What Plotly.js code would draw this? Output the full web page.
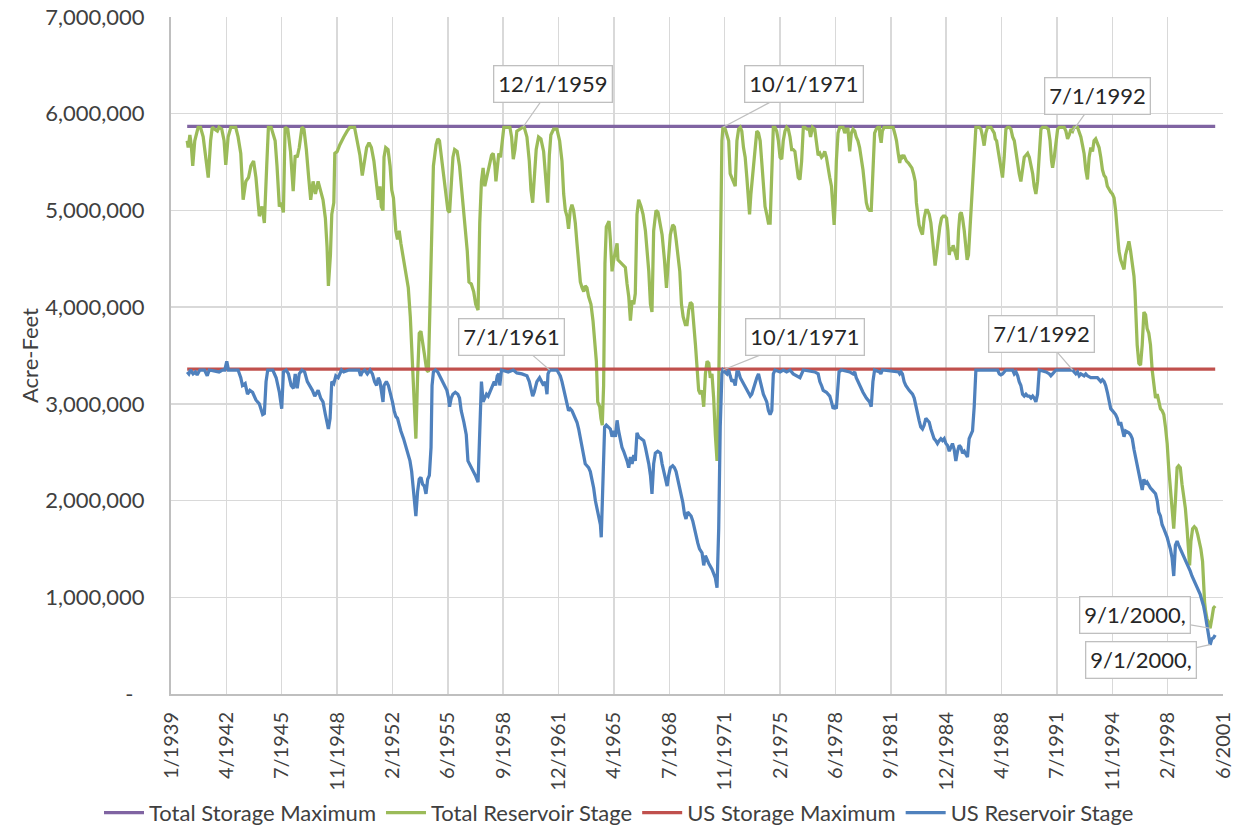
<!DOCTYPE html>
<html><head><meta charset="utf-8">
<script src="https://cdn.plot.ly/plotly-3.0.1.min.js"></script>
<style>html,body{margin:0;padding:0;background:#fff}#chart{width:1238px;height:826px}</style>
</head><body><div id="chart"></div>
<script>
// ---- data (x = decimal year, y = million acre-feet) ----
const seriesNames = ['Total Storage Maximum', 'Total Reservoir Stage', 'US Storage Maximum', 'US Reservoir Stage'];
const xTickLabels = ['1/1939','4/1942','7/1945','11/1948','2/1952','6/1955','9/1958','12/1961','4/1965','7/1968',
  '11/1971','2/1975','6/1978','9/1981','12/1984','4/1988','7/1991','11/1994','2/1998','6/2001'];
const yTickValuesAF = [0, 1000000, 2000000, 3000000, 4000000, 5000000, 6000000, 7000000];
const yTickLabels = ['-\u00a0\u00a0','1,000,000','2,000,000','3,000,000','4,000,000','5,000,000','6,000,000','7,000,000'];
const totalStorageMaxMAF = 5.87;
const usStorageMaxMAF = 3.36;

const totalStage = [
[1939.96,5.72],[1940.02,5.65],[1940.12,5.78],[1940.20,5.68],[1940.29,5.46],[1940.41,5.72],[1940.61,5.86],[1940.75,5.86],[1940.91,5.76],[1941.05,5.59],
[1941.21,5.34],[1941.35,5.72],[1941.45,5.86],[1941.59,5.84],[1941.75,5.82],[1941.85,5.86],[1942.01,5.84],[1942.15,5.72],[1942.25,5.47],[1942.39,5.76],
[1942.55,5.86],[1942.84,5.86],[1942.98,5.76],[1943.14,5.59],[1943.28,5.11],[1943.44,5.30],[1943.60,5.34],[1943.74,5.46],[1943.90,5.51],[1944.04,5.34],
[1944.24,4.94],[1944.40,5.04],[1944.54,4.87],[1944.68,5.46],[1944.78,5.86],[1944.94,5.86],[1945.18,5.72],[1945.29,5.46],[1945.43,5.04],[1945.53,5.08],
[1945.67,4.98],[1945.77,5.86],[1945.93,5.84],[1946.09,5.61],[1946.25,5.20],[1946.37,5.57],[1946.49,5.55],[1946.61,5.65],[1946.77,5.86],[1946.89,5.84],
[1947.03,5.63],[1947.17,5.34],[1947.29,5.11],[1947.43,5.30],[1947.57,5.17],[1947.73,5.30],[1947.86,5.21],[1948.02,5.11],[1948.16,4.92],[1948.26,4.62],
[1948.34,4.22],[1948.46,4.54],[1948.54,4.96],[1948.66,5.08],[1948.72,5.59],[1948.86,5.61],[1949.02,5.68],[1949.12,5.72],
[1949.25,5.76],[1949.45,5.82],[1949.61,5.86],[1949.89,5.86],[1950.05,5.72],[1950.21,5.57],[1950.35,5.36],[1950.45,5.46],[1950.61,5.65],[1950.75,5.70],
[1950.89,5.65],[1951.04,5.51],[1951.20,5.30],[1951.30,5.11],[1951.40,5.25],[1951.48,5.04],[1951.58,5.00],[1951.64,5.55],[1951.74,5.65],[1951.88,5.63],
[1952.00,5.46],[1952.10,5.21],[1952.20,5.13],[1952.34,4.79],[1952.44,4.70],[1952.54,4.79],[1952.64,4.66],[1952.80,4.49],[1952.94,4.37],[1953.08,4.20],
[1953.20,3.90],[1953.34,3.40],[1953.43,2.97],[1953.53,2.64],[1953.63,3.27],[1953.73,3.73],[1953.83,3.75],[1953.93,3.65],[1954.03,3.52],[1954.17,3.35],
[1954.27,3.33],[1954.37,4.03],[1954.47,4.96],[1954.57,5.46],[1954.73,5.68],[1954.83,5.74],[1954.93,5.72],[1955.07,5.51],[1955.23,5.30],[1955.33,5.13],
[1955.43,5.00],[1955.53,4.98],[1955.63,5.25],[1955.73,5.55],[1955.83,5.63],[1955.98,5.61],[1956.12,5.46],[1956.26,5.21],[1956.42,4.87],[1956.58,4.58],
[1956.68,4.26],[1956.82,4.24],[1956.96,4.16],[1957.08,4.03],[1957.22,3.97],[1957.32,4.87],[1957.42,5.30],[1957.52,5.44],[1957.62,5.25],[1957.72,5.34],
[1957.82,5.42],[1957.92,5.51],[1958.02,5.57],[1958.12,5.59],[1958.22,5.46],[1958.28,5.30],[1958.36,5.44],[1958.45,5.59],[1958.55,5.55],[1958.65,5.72],
[1958.75,5.86],[1959.11,5.86],[1959.21,5.76],[1959.31,5.53],[1959.41,5.63],
[1959.52,5.82],[1959.68,5.84],[1959.88,5.86],[1959.96,5.86],[1960.12,5.76],[1960.26,5.51],[1960.36,5.21],[1960.46,5.08],[1960.55,5.30],[1960.67,5.63],
[1960.81,5.76],[1960.95,5.74],[1961.11,5.61],[1961.25,5.30],[1961.35,5.08],[1961.45,5.57],[1961.54,5.78],[1961.70,5.84],[1961.90,5.84],[1962.06,5.72],
[1962.20,5.51],[1962.30,5.17],[1962.40,5.00],[1962.50,4.94],[1962.59,4.81],[1962.69,5.00],[1962.79,5.06],[1962.89,5.00],[1962.99,4.87],[1963.09,4.66],
[1963.19,4.45],[1963.29,4.26],[1963.39,4.20],[1963.49,4.16],[1963.58,4.22],[1963.68,4.20],[1963.78,4.11],[1963.92,4.03],[1964.04,3.86],[1964.14,3.69],
[1964.24,3.44],[1964.32,3.02],[1964.44,2.97],[1964.51,2.85],[1964.59,2.78],[1964.67,3.19],[1964.75,4.45],[1964.83,4.83],[1964.91,4.87],[1964.99,4.89],
[1965.07,4.70],[1965.17,4.37],[1965.27,4.49],[1965.37,4.56],[1965.47,4.66],[1965.52,4.49],[1965.62,4.47],[1965.76,4.45],[1965.96,4.41],[1966.06,4.24],
[1966.16,4.11],[1966.26,3.86],[1966.36,4.07],[1966.46,4.03],[1966.55,4.14],[1966.65,4.96],[1966.75,5.11],[1966.89,5.04],[1967.01,4.96],[1967.15,4.79],
[1967.25,4.62],[1967.35,4.37],[1967.45,4.03],[1967.54,3.95],[1967.64,4.79],[1967.78,5.00],[1967.90,4.98],[1968.00,4.87],[1968.14,4.75],[1968.28,4.49],
[1968.40,4.20],[1968.50,4.45],[1968.63,4.75],[1968.77,4.85],[1968.87,4.83],[1968.97,4.70],[1969.09,4.54],[1969.19,4.37],[1969.29,4.03],[1969.39,3.90],
[1969.52,3.82],[1969.62,3.82],[1969.72,3.97],[1969.82,4.05],[1969.92,4.03],[1970.02,3.86],[1970.12,3.61],
[1970.31,3.14],[1970.41,3.10],[1970.51,3.14],[1970.61,2.97],[1970.71,3.31],[1970.81,3.44],[1970.91,3.42],[1971.00,3.27],[1971.10,3.31],[1971.20,3.06],
[1971.30,2.68],[1971.40,2.41],[1971.50,3.19],[1971.59,4.45],[1971.69,5.72],[1971.75,5.86],[1971.89,5.84],[1971.99,5.78],[1972.09,5.72],[1972.18,5.38],
[1972.28,5.34],[1972.38,5.30],[1972.48,5.25],[1972.58,5.72],[1972.68,5.84],[1972.78,5.86],[1972.87,5.82],[1972.97,5.65],[1973.07,5.55],[1973.17,5.34],
[1973.27,5.08],[1973.33,4.96],[1973.41,5.17],[1973.52,5.38],[1973.66,5.68],[1973.76,5.82],[1973.86,5.80],[1973.96,5.72],[1974.05,5.51],[1974.15,5.25],
[1974.25,5.04],[1974.35,4.96],[1974.45,4.87],[1974.55,4.87],[1974.65,5.30],[1974.74,5.86],[1974.84,5.86],[1974.94,5.82],[1975.04,5.72],[1975.14,5.55],
[1975.24,5.53],[1975.33,5.72],[1975.43,5.82],[1975.53,5.86],[1975.63,5.84],[1975.73,5.76],[1975.83,5.63],[1975.92,5.63],[1976.02,5.61],[1976.12,5.46],
[1976.22,5.34],[1976.32,5.32],[1976.42,5.51],[1976.52,5.86],[1976.61,5.86],[1976.75,5.84],[1976.87,5.84],[1976.95,5.76],[1977.07,5.86],[1977.20,5.84],
[1977.30,5.72],[1977.40,5.57],[1977.50,5.59],[1977.60,5.55],[1977.70,5.57],[1977.79,5.61],[1977.89,5.55],[1977.99,5.42],[1978.09,5.34],[1978.19,5.25],
[1978.29,5.04],[1978.35,4.85],[1978.41,5.08],[1978.48,5.51],[1978.58,5.80],[1978.68,5.86],[1978.88,5.86],[1978.98,5.80],[1979.07,5.84],[1979.17,5.84],
[1979.27,5.61],[1979.37,5.80],[1979.47,5.84],[1979.57,5.82],[1979.66,5.76],[1979.76,5.72],[1979.86,5.65],[1979.96,5.55],[1980.06,5.42],[1980.16,5.25],
[1980.26,5.08],[1980.35,5.02],[1980.45,5.00],[1980.55,5.00],[1980.65,5.51],[1980.75,5.80],[1980.85,5.84],[1980.94,5.86],[1981.04,5.86],
[1981.06,5.78],[1981.14,5.70],[1981.21,5.82],[1981.31,5.86],[1981.85,5.86],[1981.97,5.78],[1982.05,5.72],[1982.15,5.59],[1982.24,5.49],[1982.32,5.57],
[1982.40,5.55],[1982.48,5.57],[1982.56,5.53],[1982.64,5.51],[1982.76,5.49],[1982.88,5.46],[1982.96,5.44],[1983.06,5.38],[1983.16,5.30],[1983.23,5.08],
[1983.31,4.96],[1983.39,4.85],[1983.49,4.79],[1983.59,4.75],[1983.69,4.92],[1983.79,5.00],[1983.89,5.00],[1983.99,4.96],[1984.09,4.87],[1984.19,4.66],
[1984.28,4.49],[1984.34,4.43],[1984.42,4.54],[1984.52,4.70],[1984.62,4.83],[1984.72,4.92],[1984.82,4.94],[1984.92,4.94],[1985.02,4.92],[1985.10,4.79],
[1985.18,4.54],[1985.25,4.62],[1985.33,4.58],[1985.41,4.64],[1985.49,4.58],[1985.57,4.54],[1985.65,4.49],[1985.73,4.79],[1985.81,4.96],[1985.89,4.98],
[1985.97,4.92],[1986.07,4.79],[1986.17,4.62],[1986.24,4.49],[1986.32,4.54],[1986.40,4.79],[1986.48,5.08],[1986.56,5.30],[1986.66,5.55],[1986.76,5.86],
[1986.96,5.86],[1987.06,5.84],[1987.16,5.76],[1987.25,5.67],[1987.35,5.80],[1987.45,5.86],[1987.65,5.86],[1987.75,5.82],[1987.85,5.80],[1987.91,5.74],
[1987.99,5.72],[1988.07,5.63],[1988.15,5.55],[1988.24,5.42],[1988.34,5.34],[1988.44,5.55],[1988.54,5.84],[1988.64,5.86],[1988.74,5.86],[1988.84,5.84],
[1988.94,5.76],[1989.04,5.72],[1989.14,5.59],[1989.24,5.46],[1989.33,5.38],[1989.43,5.30],[1989.53,5.46],[1989.63,5.55],[1989.73,5.57],[1989.83,5.59],
[1989.93,5.55],[1990.03,5.46],[1990.13,5.38],[1990.22,5.25],[1990.32,5.17],[1990.42,5.30],[1990.52,5.63],[1990.62,5.84],[1990.72,5.86],[1990.92,5.86],
[1991.06,5.84],[1991.16,5.72],[1991.25,5.51],[1991.31,5.44],[1991.41,5.55],[1991.51,5.72],[1991.61,5.84],[1991.71,5.86],
[1991.81,5.86],[1992.00,5.86],[1992.10,5.82],[1992.20,5.74],[1992.30,5.78],[1992.40,5.84],[1992.50,5.82],[1992.59,5.86],[1992.79,5.86],[1992.89,5.82],
[1992.99,5.76],[1993.09,5.67],[1993.18,5.59],[1993.28,5.42],[1993.38,5.32],[1993.48,5.55],[1993.58,5.65],[1993.68,5.61],[1993.77,5.72],[1993.87,5.74],
[1993.97,5.70],[1994.07,5.65],[1994.17,5.55],[1994.27,5.42],[1994.37,5.36],[1994.46,5.34],[1994.56,5.25],[1994.66,5.21],[1994.76,5.19],[1994.86,5.17],
[1994.96,5.13],[1995.05,5.00],[1995.15,4.79],[1995.25,4.58],[1995.35,4.49],[1995.45,4.43],[1995.55,4.39],[1995.64,4.54],[1995.74,4.62],[1995.84,4.68],
[1995.94,4.58],[1996.04,4.45],[1996.14,4.32],[1996.20,4.16],[1996.25,3.95],[1996.33,3.61],[1996.43,3.42],[1996.53,3.40],[1996.63,3.61],[1996.73,3.95],
[1996.83,3.92],[1996.92,3.78],[1997.02,3.73],[1997.12,3.61],[1997.22,3.35],[1997.32,3.19],[1997.42,3.06],[1997.52,3.10],[1997.61,3.02],[1997.71,2.95],
[1997.81,2.93],[1997.91,2.89],[1998.01,2.76],[1998.11,2.59],[1998.20,2.34],[1998.30,2.09],[1998.40,1.88],[1998.50,1.71],[1998.60,2.00],[1998.70,2.34],
[1998.79,2.36],[1998.89,2.34],[1998.99,2.17],[1999.09,2.05],[1999.19,1.92],[1999.29,1.71],[1999.38,1.46],[1999.44,1.33],[1999.52,1.58],[1999.62,1.71],
[1999.72,1.73],[1999.82,1.71],[1999.92,1.65],[2000.02,1.58],[2000.11,1.50],[2000.21,1.37],[2000.27,1.12],[2000.33,0.95],[2000.39,0.86],[2000.47,0.78],
[2000.57,0.74],[2000.66,0.68],[2000.76,0.78],[2000.86,0.89],[2000.96,0.91]
];

const usStage = [
[1939.96,3.33],[1940.06,3.31],[1940.16,3.35],[1940.31,3.31],[1940.45,3.33],[1940.55,3.30],[1940.71,3.35],[1940.99,3.35],[1941.15,3.29],[1941.27,3.35],
[1941.85,3.33],[1942.05,3.35],[1942.19,3.35],[1942.31,3.44],[1942.41,3.35],[1942.98,3.35],[1943.14,3.27],[1943.24,3.19],[1943.40,3.21],[1943.54,3.10],
[1943.68,3.14],[1943.84,3.12],[1944.04,3.04],[1944.24,3.00],[1944.44,2.89],[1944.54,2.90],[1944.64,3.23],[1944.74,3.35],[1945.04,3.35],[1945.24,3.27],
[1945.43,3.12],[1945.57,2.95],[1945.67,3.33],[1945.83,3.35],[1945.97,3.31],[1946.13,3.19],[1946.27,3.16],[1946.37,3.31],[1946.49,3.16],[1946.61,3.31],
[1946.77,3.35],[1946.93,3.33],[1947.09,3.23],[1947.23,3.19],[1947.39,3.14],[1947.53,3.08],[1947.73,3.14],[1947.88,3.06],[1948.02,3.02],[1948.16,2.89],
[1948.26,2.81],[1948.34,2.74],[1948.44,2.85],[1948.54,3.23],[1948.66,3.21],[1948.78,3.29],[1948.92,3.27],[1949.12,3.35],
[1949.25,3.33],[1949.55,3.35],[1950.15,3.35],[1950.25,3.29],[1950.35,3.33],[1950.49,3.35],[1950.65,3.31],[1950.81,3.35],[1950.95,3.31],[1951.08,3.23],
[1951.20,3.19],[1951.30,3.27],[1951.40,3.23],[1951.50,3.10],[1951.58,3.02],[1951.64,3.19],[1951.78,3.23],[1951.90,3.19],[1952.04,3.10],[1952.14,3.02],
[1952.24,2.93],[1952.34,2.87],[1952.44,2.85],[1952.54,2.78],[1952.64,2.72],[1952.80,2.64],[1952.94,2.55],[1953.08,2.47],[1953.18,2.41],[1953.28,2.30],
[1953.38,2.13],[1953.47,2.00],[1953.53,1.84],[1953.63,2.09],[1953.73,2.22],[1953.83,2.24],[1953.93,2.17],[1954.03,2.15],[1954.13,2.07],[1954.23,2.22],
[1954.33,2.26],[1954.43,2.55],[1954.49,3.19],[1954.57,3.33],[1954.69,3.35],[1954.83,3.33],[1954.99,3.27],[1955.13,3.23],[1955.23,3.19],[1955.37,3.14],
[1955.47,3.06],[1955.53,2.97],[1955.63,3.06],[1955.73,3.10],[1955.87,3.12],[1956.02,3.10],[1956.12,3.06],[1956.22,2.93],[1956.38,2.81],[1956.52,2.68],
[1956.62,2.41],[1956.78,2.36],[1956.92,2.32],[1957.06,2.26],[1957.22,2.19],[1957.32,2.85],[1957.42,3.23],[1957.52,3.02],[1957.62,3.06],[1957.72,3.10],
[1957.82,3.08],[1957.96,3.14],[1958.06,3.19],[1958.18,3.23],[1958.26,3.19],[1958.36,3.29],[1958.45,3.31],[1958.51,3.19],[1958.61,3.35],[1959.01,3.33],
[1959.31,3.35],[1959.52,3.32],[1959.82,3.31],[1960.12,3.29],[1960.26,3.23],[1960.36,3.14],[1960.46,3.08],[1960.55,3.12],[1960.71,3.23],[1960.87,3.27],
[1961.01,3.23],[1961.11,3.19],[1961.21,3.23],[1961.31,3.10],[1961.37,3.31],[1961.47,3.35],[1961.90,3.35],[1962.10,3.29],[1962.20,3.23],[1962.30,3.14],
[1962.40,3.06],[1962.50,3.00],[1962.59,2.93],[1962.69,2.95],[1962.79,2.93],[1962.89,2.89],[1962.99,2.85],[1963.09,2.81],[1963.19,2.74],[1963.29,2.64],
[1963.39,2.55],[1963.49,2.45],[1963.58,2.38],[1963.68,2.36],[1963.78,2.34],[1963.88,2.30],[1963.98,2.22],[1964.08,2.13],[1964.18,2.00],[1964.28,1.92],
[1964.38,1.86],[1964.48,1.75],[1964.53,1.62],[1964.63,2.13],[1964.73,2.76],[1964.83,2.78],[1964.97,2.76],[1965.07,2.74],[1965.17,2.66],[1965.27,2.72],
[1965.37,2.66],[1965.47,2.83],[1965.56,2.72],[1965.66,2.64],[1965.76,2.55],[1965.86,2.51],[1965.96,2.47],[1966.06,2.41],[1966.16,2.34],[1966.26,2.45],
[1966.36,2.38],[1966.46,2.47],[1966.55,2.41],[1966.65,2.70],[1966.75,2.66],[1966.89,2.64],[1967.05,2.62],[1967.15,2.55],[1967.25,2.47],[1967.35,2.38],
[1967.45,2.26],[1967.54,2.07],[1967.64,2.38],[1967.74,2.49],[1967.88,2.51],[1968.04,2.49],[1968.14,2.38],[1968.24,2.30],[1968.34,2.22],[1968.44,2.15],
[1968.53,2.26],[1968.63,2.34],[1968.77,2.36],[1968.87,2.34],[1968.97,2.30],[1969.07,2.22],[1969.17,2.13],[1969.27,2.05],[1969.37,1.98],[1969.47,1.86],
[1969.56,1.81],[1969.66,1.88],[1969.76,1.86],[1969.86,1.84],[1969.96,1.79],[1970.06,1.71],[1970.16,1.62],[1970.26,1.56],[1970.36,1.50],
[1970.51,1.46],[1970.61,1.33],[1970.71,1.43],[1970.91,1.35],[1971.10,1.29],[1971.30,1.20],[1971.40,1.10],[1971.50,1.71],[1971.59,2.76],[1971.69,3.31],
[1971.75,3.35],[1971.99,3.31],[1972.09,3.35],[1972.18,3.29],[1972.28,3.23],[1972.38,3.25],[1972.48,3.19],[1972.58,3.33],[1972.68,3.33],[1972.78,3.27],
[1972.97,3.21],[1973.17,3.16],[1973.27,3.12],[1973.37,3.08],[1973.46,3.10],[1973.56,3.16],[1973.76,3.27],[1973.86,3.31],[1973.96,3.23],[1974.15,3.10],
[1974.35,3.02],[1974.45,2.93],[1974.55,2.89],[1974.65,2.93],[1974.74,3.31],[1974.84,3.35],[1975.14,3.33],[1975.33,3.35],[1975.53,3.33],[1975.73,3.35],
[1975.92,3.31],[1976.12,3.29],[1976.32,3.27],[1976.52,3.35],[1977.20,3.33],[1977.40,3.31],[1977.50,3.23],[1977.60,3.19],[1977.70,3.14],[1977.89,3.12],
[1978.09,3.08],[1978.19,3.02],[1978.29,2.95],[1978.39,2.97],[1978.48,2.95],[1978.58,3.19],[1978.64,3.33],[1978.78,3.35],[1979.27,3.33],[1979.47,3.31],
[1979.57,3.33],[1979.66,3.27],[1979.76,3.23],[1979.86,3.19],[1980.06,3.12],[1980.26,3.06],[1980.45,3.02],[1980.55,2.97],[1980.65,3.23],[1980.75,3.35],
[1981.04,3.33],[1981.12,3.31],[1981.21,3.35],[1982.17,3.33],[1982.24,3.31],[1982.32,3.33],[1982.40,3.31],[1982.50,3.23],[1982.60,3.19],[1982.80,3.14],
[1983.00,3.10],[1983.10,3.06],[1983.20,2.97],[1983.29,2.89],[1983.39,2.83],[1983.49,2.76],[1983.59,2.74],[1983.69,2.78],[1983.79,2.85],[1983.89,2.83],
[1983.99,2.81],[1984.09,2.74],[1984.19,2.68],[1984.28,2.64],[1984.38,2.62],[1984.48,2.59],[1984.58,2.62],[1984.68,2.64],[1984.78,2.62],[1984.88,2.64],
[1984.98,2.59],[1985.08,2.57],[1985.18,2.51],[1985.27,2.55],[1985.37,2.59],[1985.47,2.53],[1985.57,2.41],[1985.67,2.51],[1985.77,2.57],[1985.87,2.55],
[1985.97,2.49],[1986.07,2.51],[1986.17,2.47],[1986.26,2.45],[1986.36,2.64],[1986.46,2.68],[1986.56,2.72],[1986.66,2.97],[1986.76,3.35],[1988.05,3.35],
[1988.15,3.31],[1988.24,3.30],[1988.34,3.31],[1988.44,3.33],[1988.54,3.35],[1988.94,3.35],[1989.04,3.31],[1989.14,3.33],[1989.24,3.29],[1989.33,3.23],
[1989.43,3.19],[1989.53,3.10],[1989.63,3.08],[1989.73,3.10],[1989.83,3.08],[1989.93,3.08],[1990.03,3.06],[1990.13,3.08],[1990.22,3.06],[1990.32,3.02],
[1990.42,3.10],[1990.52,3.35],[1990.92,3.33],[1991.12,3.31],[1991.21,3.29],[1991.31,3.31],[1991.41,3.33],[1991.51,3.35],
[1991.81,3.35],[1992.40,3.35],[1992.50,3.35],[1992.59,3.33],[1992.69,3.31],[1992.79,3.33],[1992.89,3.29],[1992.99,3.31],[1993.18,3.29],[1993.28,3.31],
[1993.38,3.29],[1993.58,3.27],[1993.97,3.27],[1994.17,3.23],[1994.27,3.25],[1994.37,3.23],[1994.46,3.19],[1994.56,3.12],[1994.66,3.02],[1994.76,2.95],
[1994.86,2.93],[1994.96,2.91],[1995.05,2.89],[1995.15,2.85],[1995.25,2.78],[1995.35,2.81],[1995.45,2.74],[1995.55,2.66],[1995.64,2.72],[1995.84,2.70],
[1995.94,2.68],[1996.04,2.64],[1996.14,2.53],[1996.23,2.45],[1996.33,2.34],[1996.43,2.26],[1996.53,2.19],[1996.63,2.11],[1996.73,2.22],[1996.83,2.17],
[1996.92,2.19],[1997.02,2.15],[1997.12,2.13],[1997.22,2.11],[1997.32,2.09],[1997.42,2.07],[1997.52,2.00],[1997.61,1.88],[1997.71,1.84],[1997.81,1.75],
[1997.91,1.71],[1998.01,1.67],[1998.11,1.62],[1998.20,1.56],[1998.30,1.50],[1998.40,1.41],[1998.50,1.22],[1998.60,1.54],[1998.70,1.58],[1998.79,1.54],
[1998.89,1.50],[1998.99,1.48],[1999.09,1.43],[1999.19,1.39],[1999.29,1.35],[1999.38,1.31],[1999.48,1.27],[1999.58,1.22],[1999.68,1.18],[1999.78,1.14],
[1999.88,1.12],[1999.98,1.08],[2000.07,1.03],[2000.17,0.97],[2000.27,0.91],[2000.37,0.82],[2000.47,0.70],[2000.57,0.57],[2000.66,0.51],[2000.76,0.57],
[2000.86,0.58],[2000.96,0.61]
];

// callout labels: text, date (m/d/yyyy), series it points at
const calloutTexts  = ['12/1/1959', '10/1/1971', '7/1/1992', '7/1/1961', '10/1/1971', '7/1/1992', '9/1/2000,', '9/1/2000,'];
const calloutSeries = ['total', 'total', 'total', 'us', 'us', 'us', 'total', 'us'];

// ---- styles / layout ----
const calloutOffsets = [[30,-43],[81,-43],[25,-35],[-38,-33],[82,-33],[-31,-36],[-75,-13],[-69,15]];
const colors = ['#8064A2', '#9BBB59', '#C0504D', '#4F81BD'];
const FONT = 'Lato, "Open Sans", sans-serif';
const TXT = '#404040';

const AF = 1e6;
const xs = a => a.map(p => p[0]);
const ys = a => a.map(p => p[1] * AF);
const spanX = [totalStage[0][0], totalStage[totalStage.length - 1][0]];

const traces = [
  {x: spanX, y: spanX.map(() => totalStorageMaxMAF * AF), name: seriesNames[0]},
  {x: xs(totalStage), y: ys(totalStage), name: seriesNames[1]},
  {x: spanX, y: spanX.map(() => usStorageMaxMAF * AF), name: seriesNames[2]},
  {x: xs(usStage), y: ys(usStage), name: seriesNames[3]}
].map((t, i) => Object.assign(t, {type: 'scatter', mode: 'lines', line: {color: colors[i], width: 3.25}, hoverinfo: 'skip'}));

const toYear = s => { const [m, d, y] = s.replace(',', '').split('/').map(Number); return y + (m - 1) / 12 + (d - 1) / 365; };
const nearest = (arr, x) => arr.reduce((b, p) => Math.abs(p[0] - x) < Math.abs(b[0] - x) ? p : b);

const annotations = calloutTexts.map((t, i) => {
  const arr = calloutSeries[i] === 'total' ? totalStage : usStage;
  const p = nearest(arr, toYear(t));
  return {
    x: p[0], y: p[1] * AF, xref: 'x', yref: 'y', text: t,
    showarrow: true, arrowhead: 0, arrowwidth: 1.2, arrowcolor: '#BFBFBF', standoff: 0,
    ax: calloutOffsets[i][0], ay: calloutOffsets[i][1],
    bgcolor: '#FFFFFF', bordercolor: '#BFBFBF', borderwidth: 1.3, borderpad: 4,
    font: {family: FONT, size: 22, color: '#262626'}
  };
});

const tickStep = 1200 / 365.25;
const layout = {
  width: 1238, height: 826,
  margin: {l: 171, r: 15, t: 17, b: 132},
  paper_bgcolor: '#FFFFFF', plot_bgcolor: '#FFFFFF',
  font: {family: FONT, color: TXT},
  showlegend: true,
  legend: {orientation: 'h', x: 0.5, xanchor: 'center', xref: 'container', yref: 'container', y: 0.016, yanchor: 'middle',
           font: {family: FONT, size: 22, color: TXT}, itemwidth: 40, tracegroupgap: 0, bgcolor: 'rgba(0,0,0,0)'},
  xaxis: {
    type: 'linear', range: [1939, 1939 + (xTickLabels.length - 1) * tickStep],
    tickvals: xTickLabels.map((_, k) => 1939 + k * tickStep), ticktext: xTickLabels,
    tickangle: -90, tickfont: {family: FONT, size: 20, color: TXT},
    showgrid: true, gridcolor: '#D9D9D9', gridwidth: 1.5,
    showline: true, linecolor: '#BFBFBF', linewidth: 2,
    ticks: '', zeroline: false, ticklabelstandoff: 8
  },
  yaxis: {
    range: [0, 7000000], tickvals: yTickValuesAF, ticktext: yTickLabels,
    tickfont: {family: FONT, size: 22, color: TXT},
    title: {text: 'Acre-Feet', font: {family: FONT, size: 22, color: TXT}},
    showgrid: true, gridcolor: '#D9D9D9', gridwidth: 1.5,
    showline: true, linecolor: '#BFBFBF', linewidth: 2,
    ticks: '', zeroline: false, ticklabelstandoff: 20
  },
  annotations: annotations
};

Plotly.newPlot('chart', traces, layout, {displayModeBar: false, staticPlot: true});
</script>
</body></html>
